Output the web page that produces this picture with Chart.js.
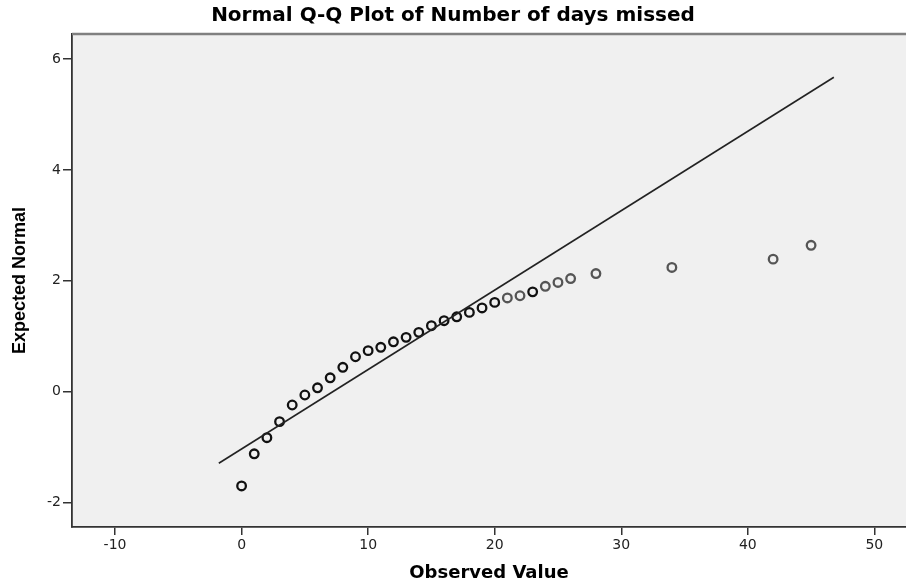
<!DOCTYPE html>
<html>
<head>
<meta charset="utf-8">
<script src="https://cdn.jsdelivr.net/npm/chart.js@4.4.0/dist/chart.umd.min.js"></script>
<style>
  html, body { margin: 0; padding: 0; background: #ffffff; }
  #wrap { width: 906px; height: 588px; }
</style>
</head>
<body>
<div id="wrap"><canvas id="c" width="906" height="588"></canvas></div>
<script>
// ---- data ----
const chartTitle = 'Normal Q-Q Plot of Number of days missed';
const xTitle = 'Observed Value';
const yTitle = 'Expected Normal';

const observedValues = [0, 1, 2, 3, 4, 5, 6, 7, 8, 9, 10, 11, 12, 13, 14, 15, 16, 17, 18, 19, 20,
                        21, 22, 23, 24, 25, 26, 28, 34, 42, 45];
const expectedNormal = [-1.70, -1.12, -0.83, -0.54, -0.24, -0.06, 0.07, 0.25, 0.44, 0.63, 0.74,
                        0.80, 0.90, 0.98, 1.07, 1.19, 1.28, 1.35, 1.43, 1.51, 1.61,
                        1.69, 1.73, 1.80, 1.90, 1.97, 2.04, 2.13, 2.24, 2.39, 2.64];

const refLineX = [-1.8, 46.8];
const refLineY = [-1.29, 5.67];

const xTickValues = [-10, 0, 10, 20, 30, 40, 50];
const yTickValues = [-2, 0, 2, 4, 6];
const xRange = [-13.4, 52.5];
const yRange = [-2.44, 6.45];

// ---- styles (separate from data) ----
const pointColors = observedValues.map(v => (v <= 20 || v === 23) ? '#111111' : '#555555');

const points = observedValues.map((x, i) => ({ x: x, y: expectedNormal[i] }));
const linePts = refLineX.map((x, i) => ({ x: x, y: refLineY[i] }));

const plotFrame = {
  id: 'plotFrame',
  beforeDraw(chart) {
    const { ctx, chartArea: a } = chart;
    ctx.save();
    ctx.fillStyle = '#f0f0f0';
    ctx.fillRect(a.left, a.top, a.right - a.left, a.bottom - a.top);
    ctx.restore();
  },
  afterDraw(chart) {
    const { ctx, chartArea: a } = chart;
    ctx.save();
    ctx.strokeStyle = '#808080';
    ctx.lineWidth = 2.5;
    ctx.beginPath();
    ctx.moveTo(a.left, a.top);
    ctx.lineTo(a.right, a.top);
    ctx.stroke();
    ctx.restore();
  }
};

new Chart(document.getElementById('c'), {
  type: 'scatter',
  data: {
    datasets: [
      {
        type: 'line',
        data: linePts,
        borderColor: '#222222',
        borderWidth: 1.6,
        pointRadius: 0,
        fill: false,
        tension: 0
      },
      {
        type: 'scatter',
        data: points,
        pointStyle: 'circle',
        pointRadius: 4.3,
        pointBorderWidth: 2.3,
        pointBackgroundColor: 'rgba(0,0,0,0)',
        pointBorderColor: pointColors
      }
    ]
  },
  options: {
    responsive: false,
    devicePixelRatio: 1,
    animation: false,
    layout: { padding: 0, autoPadding: false },
    plugins: {
      legend: { display: false },
      tooltip: { enabled: false },
      title: {
        display: true,
        text: chartTitle,
        color: '#000000',
        font: { family: 'DejaVu Sans', size: 20, weight: 'bold' },
        padding: { top: 4, bottom: 6 }
      }
    },
    scales: {
      x: {
        type: 'linear',
        min: xRange[0],
        max: xRange[1],
        afterBuildTicks: (scale) => { scale.ticks = xTickValues.map(v => ({ value: v })); },
        afterFit: (scale) => { scale.height = 61; },
        grid: { drawOnChartArea: false, drawTicks: true, tickLength: 8, color: '#333333', lineWidth: 1.5 },
        border: { display: true, color: '#333333', width: 1.8 },
        ticks: { color: '#222222', font: { family: 'DejaVu Sans', size: 14 }, padding: 2, maxRotation: 0 },
        title: {
          display: true,
          text: xTitle,
          color: '#000000',
          font: { family: 'DejaVu Sans', size: 18, weight: 'bold' },
          padding: { top: 0, bottom: 4 }
        }
      },
      y: {
        type: 'linear',
        min: yRange[0],
        max: yRange[1],
        afterBuildTicks: (scale) => { scale.ticks = yTickValues.map(v => ({ value: v })); },
        afterFit: (scale) => { scale.width = 72; },
        grid: { drawOnChartArea: false, drawTicks: true, tickLength: 9, color: '#333333', lineWidth: 1.5 },
        border: { display: true, color: '#333333', width: 1.8 },
        ticks: { color: '#222222', font: { family: 'DejaVu Sans', size: 14 }, padding: 2 },
        title: {
          display: true,
          text: yTitle,
          color: '#000000',
          font: { family: 'Liberation Sans', size: 18, weight: 'bold' },
          padding: { top: 9, bottom: 0 }
        }
      }
    }
  },
  plugins: [plotFrame]
});
</script>
</body>
</html>
